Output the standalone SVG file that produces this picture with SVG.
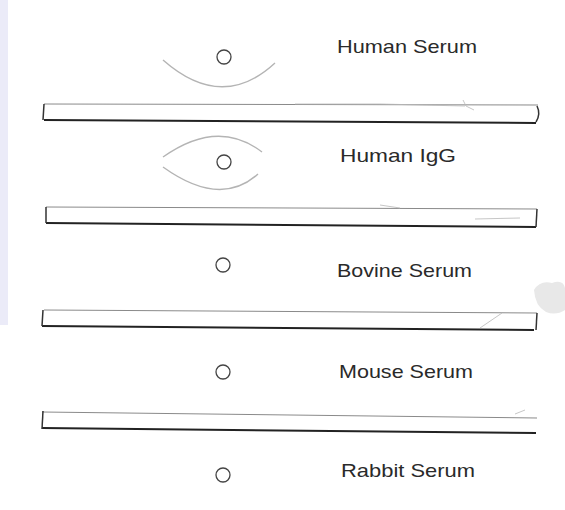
<svg xmlns="http://www.w3.org/2000/svg" width="565" height="510" viewBox="0 0 565 510">
  <defs>
    <style>
      .lbl { font-family: "Liberation Sans", Arial, sans-serif; font-size: 19px; fill: #2a2a2a; }
      .bar { fill: #ffffff; stroke: none; }
      .btop { stroke: #8a8a8a; stroke-width: 1; fill: none; }
      .bbot { stroke: #222222; stroke-width: 2; fill: none; }
      .bend { stroke: #333333; stroke-width: 1.5; fill: none; }
      .well { fill: #ffffff; stroke: #444444; stroke-width: 1.3; }
      .arc { fill: none; stroke: #b4b4b4; stroke-width: 1.4; }
      .faint { fill: none; stroke: #b8b8b8; stroke-width: 0.8; }
    </style>
  </defs>
  <rect x="0" y="0" width="565" height="510" fill="#ffffff"/>
  <rect x="0" y="0" width="8" height="325" fill="#ebebf8"/>
  <path d="M534,290 Q540,280 552,283 Q563,279 565,288 L565,310 Q556,316 546,312 Q535,306 534,290 Z" fill="#e8e8e8"/>

  <g id="connectors">
    <g id="bar1">
      <rect class="bar" x="43" y="104" width="496" height="18"/>
      <path class="btop" d="M44,104 L538,105"/>
      <path class="bbot" d="M44,120 Q280,122 536,123"/>
      <path class="bend" d="M44,104 L43,120"/>
      <path class="bend" d="M537,106 Q541,114 536,122" stroke-width="2.5"/>
      <path class="faint" d="M295,104 Q380,103 465,106 M463,100 L466,106 L474,110"/>
    </g>
    <g id="bar2">
      <rect class="bar" x="46" y="208" width="491" height="17"/>
      <path class="btop" d="M46,207 L537,209"/>
      <path class="bbot" d="M46,223 Q290,225 536,227"/>
      <path class="bend" d="M46,207 L46,223"/>
      <path class="bend" d="M537,209 L536,227"/>
      <path class="faint" d="M380,205 L400,208 M475,219 L520,218"/>
    </g>
    <g id="bar3">
      <rect class="bar" x="42" y="311" width="495" height="17"/>
      <path class="btop" d="M44,310 L537,313"/>
      <path class="bbot" d="M42,326 Q290,328 534,330"/>
      <path class="bend" d="M43,310 L42,326"/>
      <path class="bend" d="M537,313 L536,330"/>
      <path class="faint" d="M480,328 L502,313"/>
    </g>
    <g id="bar4">
      <rect class="bar" x="42" y="412" width="495" height="18"/>
      <path class="btop" d="M42,412 L537,418"/>
      <path class="bbot" d="M42,428 Q300,431 536,433"/>
      <path class="bend" d="M43,411 L42,429" stroke-width="2"/>
      <path class="faint" d="M515,414 L525,410"/>
    </g>
  </g>

  <g id="human-serum">
    <path class="arc" d="M163,60 Q222,112 275,63"/>
    <circle class="well" cx="224" cy="57" r="7"/>
    <text class="lbl" x="337" y="53" textLength="140" lengthAdjust="spacingAndGlyphs">Human Serum</text>
  </g>
  <g id="human-igg">
    <path class="arc" d="M163,157 Q218,118 262,152"/>
    <path class="arc" d="M163,167 Q220,208 258,174"/>
    <circle class="well" cx="224" cy="162" r="7"/>
    <text class="lbl" x="340" y="162" textLength="116" lengthAdjust="spacingAndGlyphs">Human IgG</text>
  </g>
  <g id="bovine-serum">
    <circle class="well" cx="223" cy="265" r="7"/>
    <text class="lbl" x="337" y="277" textLength="135" lengthAdjust="spacingAndGlyphs">Bovine Serum</text>
  </g>
  <g id="mouse-serum">
    <circle class="well" cx="223" cy="372" r="7"/>
    <text class="lbl" x="339" y="378" textLength="134" lengthAdjust="spacingAndGlyphs">Mouse Serum</text>
  </g>
  <g id="rabbit-serum">
    <circle class="well" cx="223" cy="475" r="7"/>
    <text class="lbl" x="341" y="477" textLength="134" lengthAdjust="spacingAndGlyphs">Rabbit Serum</text>
  </g>
</svg>
